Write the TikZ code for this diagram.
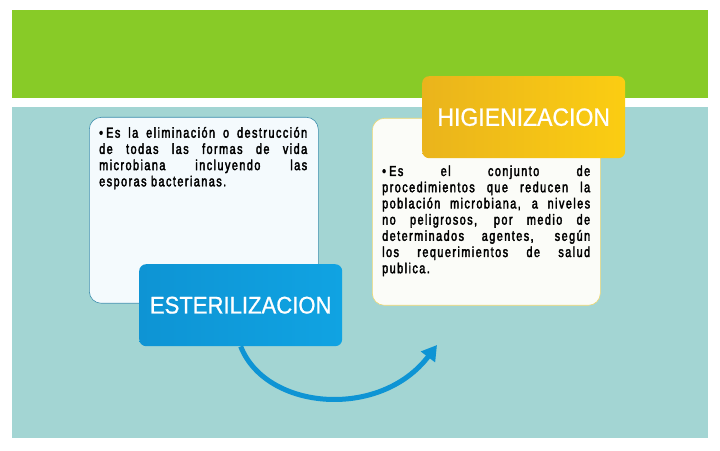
\documentclass[tikz,border=0pt]{standalone}
\usepackage{fontspec}
\setmainfont{Liberation Sans}
\newfontfamily\bodyfont[FakeStretch=0.75,LetterSpace=10,FakeBold=2.5]{Liberation Sans}
\newfontfamily\headfont[FakeStretch=0.92,FakeBold=0.8]{Liberation Sans}
\usetikzlibrary{arrows.meta}
\definecolor{band}{HTML}{88CB27}
\definecolor{sea}{HTML}{A3D5D3}
\definecolor{sky}{HTML}{0E94D4}
\definecolor{sky2}{HTML}{10A3E2}
\definecolor{sun}{HTML}{EAB41C}
\definecolor{sun2}{HTML}{FBCD12}
\definecolor{paper}{HTML}{F4FAFD}
\definecolor{paper2}{HTML}{FBFCF8}
\definecolor{rim}{HTML}{3F8FAE}
\definecolor{rim2}{HTML}{EFD873}
\tikzset{
    %Define style for the text panels
    panel/.style={
           rectangle,
           rounded corners=12pt,
           draw=rim, semithick,
           fill=paper,
           minimum width=229pt,
           minimum height=186pt,
           anchor=north west},
    %Define style for the coloured headers
    header/.style={
           rectangle,
           rounded corners=7pt,
           minimum width=203pt,
           minimum height=82pt,
           anchor=north west,
           text=white},
    %Define style for the bullet texts
    bodytext/.style={
           anchor=base west,
           inner sep=0pt,
           align=justify,
           text width=208pt,
           font=\bodyfont\fontsize{14.5}{16.2}\selectfont},
    % Define arrow style
    flow/.style={
           -{Triangle[length=15pt,width=17pt]},
           line width=5pt,
           draw=sky}
}
\newcommand{\bul}{\hangindent=7pt\hangafter=1\makebox[7pt][l]{\textbullet}}
\begin{document}
\begin{tikzpicture}[x=1pt,y=1pt]
\useasboundingbox[fill=white] (0,0) rectangle (720,450);
\fill[band] (12,352) rectangle (708,440);
\fill[sea] (12,12) rectangle (708,343);
\node[panel](estpanel) at (89,333){};
\node[panel, draw=rim2, fill=paper2, minimum width=228pt, minimum height=187pt](higpanel) at (372,332){};
\node[bodytext](esttext) at ([xshift=10pt,yshift=-20.7pt]estpanel.north west){%
\bul Es la eliminación o destrucción\linebreak
de todas las formas de vida\linebreak
microbiana incluyendo las\linebreak
esporas bacterianas.};
\node[bodytext](higtext) at ([xshift=10pt,yshift=-58pt]higpanel.north west){%
\bul Es el conjunto de\linebreak
procedimientos que reducen la\linebreak
población microbiana, a niveles\linebreak
no peligrosos, por medio de\linebreak
determinados agentes, según\linebreak
los requerimientos de salud\linebreak
publica.};
\node[header, left color=sky, right color=sky2, font=\headfont\fontsize{24}{26}\selectfont](est) at (139,186){ESTERILIZACION};
\node[header, left color=sun, right color=sun2, font=\headfont\fontsize{25}{26}\selectfont](hig) at (422,374){HIGIENIZACION};
\coordinate (tip) at (437,105);
\draw[flow] (est.south) .. controls +(25,-64) and +(-57,-75) .. (tip);
\end{tikzpicture}
\end{document}
